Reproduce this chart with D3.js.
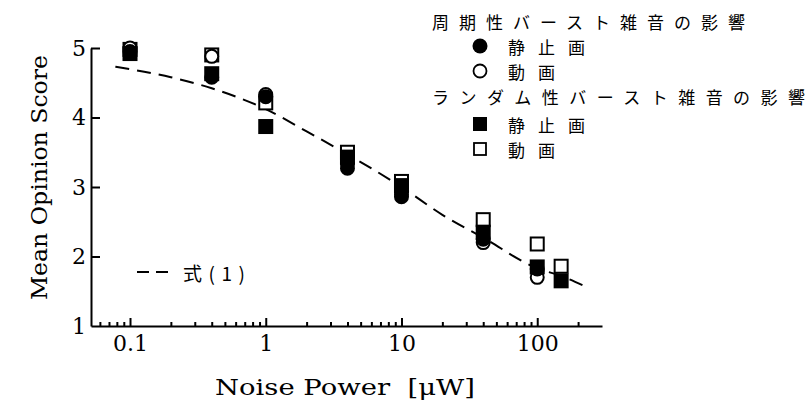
<!DOCTYPE html>
<html><head><meta charset="utf-8">
<script src="https://cdn.jsdelivr.net/npm/d3@7"></script>
<style>
html,body{margin:0;padding:0;background:#fff;}
svg{display:block;}
</style></head>
<body>
<svg id="chart" width="812" height="405"></svg>
<script>
// ---- data ----
const periodicX = [0.1, 0.4, 1, 4, 10, 40, 100];
const periodicStill = [4.95, 4.58, 4.30, 3.27, 2.86, 2.25, 1.82];
const periodicMoving = [5.00, 4.88, 4.33, 3.33, 2.90, 2.20, 1.70];
const randomX = [0.1, 0.4, 1, 4, 10, 40, 100, 150];
const randomStill = [4.92, 4.63, 3.87, 3.43, 3.02, 2.35, 1.85, 1.65];
const randomMoving = [4.98, 4.90, 4.21, 3.50, 3.08, 2.53, 2.18, 1.86];
const curveX = [0.078, 0.2, 0.4, 1, 2, 4, 10, 20, 40, 100, 150, 220];
const curveY = [4.73, 4.58, 4.42, 4.12, 3.80, 3.47, 3.00, 2.60, 2.27, 1.83, 1.72, 1.58];
const xMajorTicks = [0.1, 1, 10, 100];
const xTickLabels = ["0.1", "1", "10", "100"];
const xMinorTicks = [0.06,0.07,0.08,0.09,0.2,0.3,0.4,0.5,0.6,0.7,0.8,0.9,2,3,4,5,6,7,8,9,20,30,40,50,60,70,80,90,200];
const yTicks = [1, 2, 3, 4, 5];
const legendTitle1 = "周期性バースト雑音の影響";
const legendTitle2 = "ランダム性バースト雑音の影響";
const labelStill = "静止画";
const labelMoving = "動画";
const curveLabel = "式(1)";
const xLabel = "Noise Power  [\u03bcW]";
const yLabel = "Mean Opinion Score";

// ---- chart ----
const svg = d3.select("#chart");
const serif = "'DejaVu Serif','Liberation Serif',serif";
const cjk = "'Noto Sans CJK JP','Noto Sans CJK SC',sans-serif";

const x = d3.scaleLog().domain([0.0516, 300]).range([91, 602]);
const y = d3.scaleLinear().domain([1, 5]).range([326, 48]);

// axes
const gx = svg.append("g").attr("transform", `translate(0,${y(1)})`)
  .call(d3.axisBottom(x).tickValues(xMajorTicks).tickFormat((d,i)=>xTickLabels[i])
    .tickSizeInner(-8).tickSizeOuter(0).tickPadding(9));
const gxm = svg.append("g").attr("transform", `translate(0,${y(1)})`)
  .call(d3.axisBottom(x).tickValues(xMinorTicks).tickFormat("")
    .tickSizeInner(-4).tickSizeOuter(0));
gxm.select(".domain").remove();
const gy = svg.append("g").attr("transform", `translate(${x.range()[0]},0)`)
  .call(d3.axisLeft(y).tickValues(yTicks).tickFormat(d3.format("d"))
    .tickSizeInner(-9).tickSizeOuter(0).tickPadding(5));
[gx, gxm, gy].forEach(g => {
  g.selectAll("path,line").attr("stroke", "#000").attr("stroke-width", 2);
  g.selectAll("text").attr("font-family", serif).attr("font-size", 22).attr("fill", "#000");
});
gx.selectAll("text").attr("dy", "0.71em");
gy.select(".tick:first-of-type line").remove();

// axis titles
svg.append("text").attr("x", 215).attr("y", 395)
  .attr("font-family", serif).attr("font-size", 22).attr("xml:space","preserve")
  .attr("textLength", 260).attr("lengthAdjust", "spacingAndGlyphs").text(xLabel);
svg.append("text").attr("transform", "translate(47,300) rotate(-90)")
  .attr("font-family", serif).attr("font-size", 22)
  .attr("textLength", 245).attr("lengthAdjust", "spacingAndGlyphs").text(yLabel);

// curve
const line = d3.line().x((d,i)=>x(curveX[i])).y((d,i)=>y(curveY[i])).curve(d3.curveMonotoneX);
svg.append("path").datum(curveX).attr("d", line).attr("fill", "none")
  .attr("stroke", "#000").attr("stroke-width", 2).attr("stroke-dasharray", "14,8");

// markers
const S = 15;
function squares(xs, ys, filled) {
  svg.append("g").selectAll("rect").data(xs).join("rect")
    .attr("x", (d)=>x(d)-S/2+1).attr("y", (d,i)=>y(ys[i])-S/2+1)
    .attr("width", S-2).attr("height", S-2)
    .attr("fill", filled ? "#000" : "#fff").attr("stroke", "#000").attr("stroke-width", 2);
}
function circles(xs, ys, filled) {
  svg.append("g").selectAll("circle").data(xs).join("circle")
    .attr("cx", (d)=>x(d)).attr("cy", (d,i)=>y(ys[i])).attr("r", S/2-1)
    .attr("fill", filled ? "#000" : "#fff").attr("stroke", "#000").attr("stroke-width", 2);
}
squares(randomX, randomMoving, false);
circles(periodicX, periodicMoving, false);
squares(randomX, randomStill, true);
circles(periodicX, periodicStill, true);

// legend
const lg = svg.append("g").attr("font-family", cjk).attr("font-size", 17).attr("fill", "#000");
lg.append("text").attr("x", 432).attr("y", 21).attr("dominant-baseline", "central")
  .attr("textLength", 313).attr("lengthAdjust", "spacing").text(legendTitle1);
lg.append("text").attr("x", 432).attr("y", 96).attr("dominant-baseline", "central")
  .attr("textLength", 373).attr("lengthAdjust", "spacing").text(legendTitle2);
const rows = [
  {yy: 46, label: labelStill, type: "circle", filled: true, w: 77},
  {yy: 71, label: labelMoving, type: "circle", filled: false, w: 47},
  {yy: 124, label: labelStill, type: "square", filled: true, w: 77},
  {yy: 149, label: labelMoving, type: "square", filled: false, w: 47}
];
rows.forEach(r => {
  if (r.type === "circle") {
    lg.append("circle").attr("cx", 480).attr("cy", r.yy).attr("r", r.filled ? 7.5 : 6.5)
      .attr("fill", r.filled ? "#000" : "#fff").attr("stroke", "#000").attr("stroke-width", r.filled ? 0 : 1.8);
  } else {
    lg.append("rect").attr("x", 480-7+ (r.filled?0:1)).attr("y", r.yy-7+(r.filled?0:1))
      .attr("width", r.filled?14:12).attr("height", r.filled?14:12)
      .attr("fill", r.filled ? "#000" : "#fff").attr("stroke", "#000").attr("stroke-width", r.filled ? 0 : 1.8);
  }
  lg.append("text").attr("x", 508).attr("y", r.yy).attr("dominant-baseline", "central")
    .attr("textLength", r.w).attr("lengthAdjust", "spacing").text(r.label);
});

// curve legend
svg.append("line").attr("x1", 137).attr("x2", 168).attr("y1", 272).attr("y2", 272)
  .attr("stroke", "#000").attr("stroke-width", 2).attr("stroke-dasharray", "12,7");
svg.append("text").attr("x", 183).attr("y", 272).attr("dominant-baseline", "central")
  .attr("font-family", cjk).attr("font-size", 19)
  .attr("textLength", 62).attr("lengthAdjust", "spacing").text(curveLabel);
</script>
</body></html>
